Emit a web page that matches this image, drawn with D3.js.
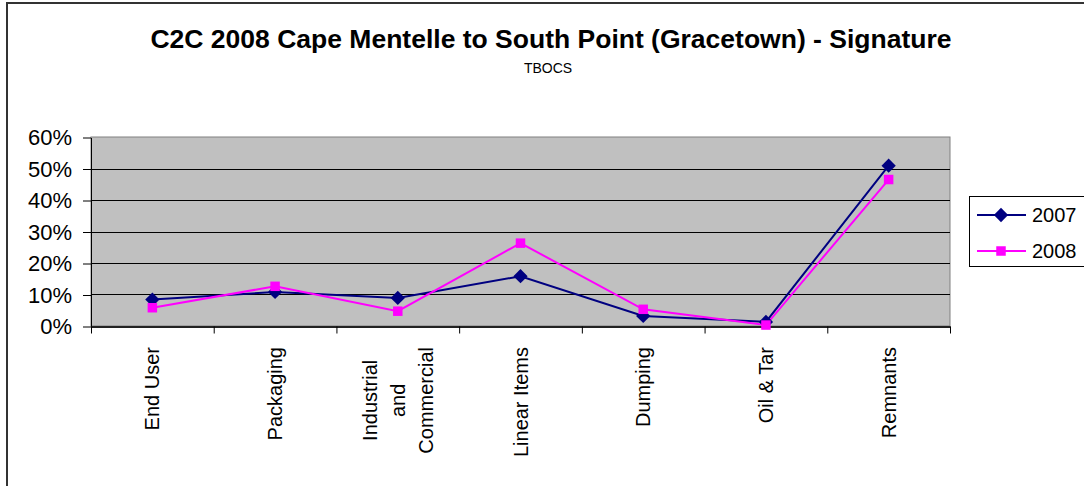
<!DOCTYPE html>
<html>
<head>
<meta charset="utf-8">
<script src="https://cdnjs.cloudflare.com/ajax/libs/d3/7.8.5/d3.min.js"></script>
<style>
  body { margin: 0; background: #fff; }
  svg text { font-family: "Liberation Sans", Arial, sans-serif; }
</style>
</head>
<body>
<svg id="chart" width="1084" height="486"></svg>
<script>
// data
const categories = ["End User", "Packaging", "Industrial and Commercial", "Linear Items", "Dumping", "Oil & Tar", "Remnants"];
const categoryLines = [["End User"], ["Packaging"], ["Industrial", "and", "Commercial"], ["Linear Items"], ["Dumping"], ["Oil & Tar"], ["Remnants"]];
const values2007 = [0.084, 0.108, 0.089, 0.158, 0.032, 0.013, 0.509];
const values2008 = [0.058, 0.126, 0.047, 0.263, 0.053, 0.003, 0.465];
const yTicks = [0, 0.1, 0.2, 0.3, 0.4, 0.5, 0.6];
const seriesNames = ["2007", "2008"];

const width = 1084, height = 486;
const plot = { left: 91, right: 950, top: 137, bottom: 326 };

const svg = d3.select("#chart");

// outer chart border
svg.append("rect")
    .attr("x", 7).attr("y", 3)
    .attr("width", width + 10).attr("height", height + 10)
    .attr("fill", "#fff")
    .attr("stroke", "#333").attr("stroke-width", 2);

// titles
svg.append("text")
    .attr("x", 551).attr("y", 48)
    .attr("text-anchor", "middle")
    .attr("font-size", 26.5).attr("font-weight", "bold")
    .text("C2C 2008 Cape Mentelle to South Point (Gracetown) - Signature");

svg.append("text")
    .attr("x", 548).attr("y", 73)
    .attr("text-anchor", "middle")
    .attr("font-size", 14)
    .text("TBOCS");

const x = d3.scaleBand()
    .domain(categories)
    .range([plot.left, plot.right])
    .padding(0);

const xEdge = d3.scaleLinear()
    .domain([0, categories.length])
    .range([plot.left, plot.right]);

const y = d3.scaleLinear()
    .domain([0, 0.6])
    .range([plot.bottom, plot.top]);

// plot background
svg.append("rect")
    .attr("x", plot.left).attr("y", plot.top)
    .attr("width", plot.right - plot.left)
    .attr("height", plot.bottom - plot.top)
    .attr("fill", "#c0c0c0")
    .attr("stroke", "#808080").attr("stroke-width", 1);

// gridlines
svg.append("g")
    .selectAll("line")
    .data(yTicks.filter(d => d > 0 && d < 0.6))
    .join("line")
    .attr("x1", plot.left).attr("x2", plot.right)
    .attr("y1", d => Math.round(y(d)) + 0.5).attr("y2", d => Math.round(y(d)) + 0.5)
    .attr("stroke", "#000").attr("stroke-width", 1);

// y axis
const yAxis = svg.append("g")
    .attr("transform", `translate(${plot.left}, 0.5)`)
    .call(d3.axisLeft(y).tickValues(yTicks).tickFormat(d3.format(".0%")).tickSize(8).tickPadding(11).tickSizeOuter(0));
yAxis.select(".domain").attr("stroke", "#000");
yAxis.selectAll("text").attr("font-size", 22).attr("fill", "#000")
    .style("font-family", "'Liberation Sans', Arial, sans-serif");

// x axis: ticks at category boundaries
const xAxis = svg.append("g")
    .attr("transform", `translate(0, ${plot.bottom + 0.5})`)
    .call(d3.axisBottom(xEdge).ticks(categories.length).tickFormat("").tickSize(7).tickSizeOuter(0));
xAxis.select(".domain").attr("stroke", "#222").attr("stroke-width", 2);

// x labels, rotated
const labelTop = 347;
const labelGroups = svg.append("g")
    .selectAll("g")
    .data(categories)
    .join("g")
    .attr("transform", d => `translate(${x(d) + x.bandwidth() / 2}, ${labelTop}) rotate(-90)`);

labelGroups.each(function(d, i) {
    const g = d3.select(this);
    const lines = categoryLines[i];
    const lineH = 28;
    const texts = g.selectAll("text")
        .data(lines)
        .join("text")
        .attr("font-size", 20)
        .attr("text-anchor", "middle")
        .attr("dominant-baseline", "central")
        .attr("y", (l, j) => (j - (lines.length - 1) / 2) * lineH)
        .text(l => l);
    let maxW = 0;
    texts.each(function() { maxW = Math.max(maxW, this.getComputedTextLength()); });
    texts.attr("x", -maxW / 2);
});

// series
const line = d3.line()
    .x((d, i) => x(categories[i]) + x.bandwidth() / 2)
    .y(d => y(d));

const series = [
    { name: seriesNames[0], values: values2007, color: "#000080", symbol: d3.symbolDiamond2, size: 130 },
    { name: seriesNames[1], values: values2008, color: "#ff00ff", symbol: d3.symbolSquare2, size: 115 }
];

series.forEach(s => {
    svg.append("path")
        .datum(s.values)
        .attr("fill", "none")
        .attr("stroke", s.color)
        .attr("stroke-width", 2)
        .attr("d", line);
});

series.forEach(s => {
    svg.append("g")
        .selectAll("path")
        .data(s.values)
        .join("path")
        .attr("transform", (d, i) => `translate(${x(categories[i]) + x.bandwidth() / 2}, ${y(d)})`)
        .attr("d", d3.symbol().type(s.symbol).size(s.size))
        .attr("fill", s.color);
});

// legend
const legend = svg.append("g");
legend.append("rect")
    .attr("x", 969.5).attr("y", 196.5)
    .attr("width", 130).attr("height", 70)
    .attr("fill", "#fff")
    .attr("stroke", "#000").attr("stroke-width", 1);

series.forEach((s, i) => {
    const ly = 215 + i * 36;
    legend.append("line")
        .attr("x1", 977).attr("x2", 1026)
        .attr("y1", ly).attr("y2", ly)
        .attr("stroke", s.color).attr("stroke-width", 2);
    legend.append("path")
        .attr("transform", `translate(1001, ${ly})`)
        .attr("d", d3.symbol().type(s.symbol).size(s.size))
        .attr("fill", s.color);
    legend.append("text")
        .attr("x", 1032).attr("y", ly)
        .attr("dominant-baseline", "central")
        .attr("font-size", 20)
        .text(s.name);
});
</script>
</body>
</html>
